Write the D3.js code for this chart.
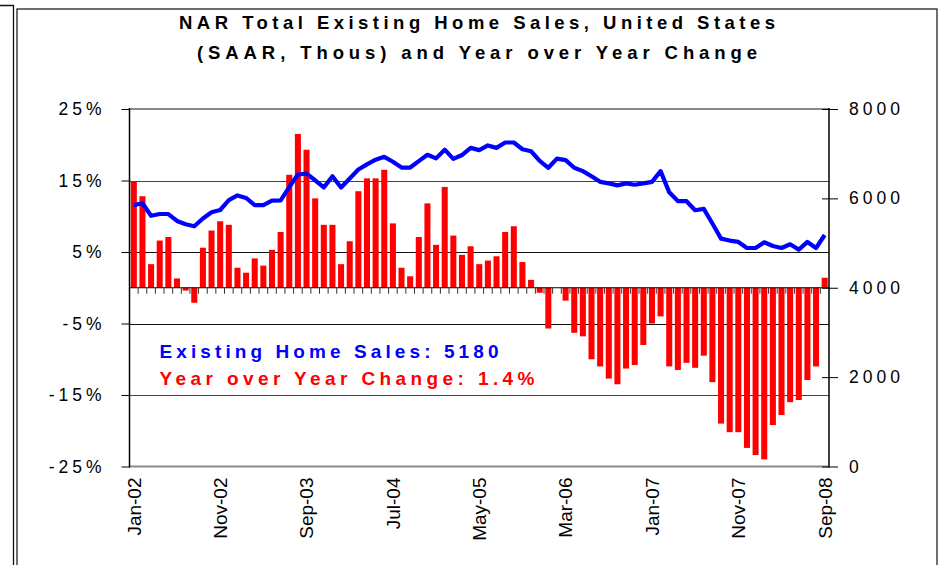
<!DOCTYPE html>
<html>
<head>
<meta charset="utf-8">
<script src="https://cdn.jsdelivr.net/npm/d3@7"></script>
<style>
  html, body { margin: 0; padding: 0; background: #fff; }
  svg { display: block; font-family: Arial, "Liberation Sans", sans-serif; }
</style>
</head>
<body>
<svg id="chart" width="943" height="565"></svg>
<script>
// ---------- DATA ----------
const startMonth = new Date(2002, 0, 1);
const endMonth = new Date(2008, 9, 1); // exclusive -> through Sep-08
const months = d3.timeMonths(startMonth, endMonth).map(d3.timeFormat("%b-%y"));

const yoyChange = [
  14.8, 12.8, 3.3, 6.6, 7.1, 1.3, -0.4, -2.1, 5.6, 8.0, 9.3, 8.8,
  2.8, 2.1, 4.1, 3.1, 5.3, 7.8, 15.8, 21.5, 19.3, 12.5, 8.8, 8.8,
  3.3, 6.5, 13.5, 15.3, 15.3, 16.5, 9.0, 2.8, 1.6, 7.1, 11.8, 6.0,
  14.1, 7.3, 4.6, 5.8, 3.3, 3.8, 4.4, 7.8, 8.6, 3.6, 1.1, -0.7,
  -5.7, 0.0, -1.8, -6.3, -6.8, -10.0, -11.0, -12.7, -13.5, -11.3, -10.8, -8.0,
  -5.0, -4.0, -11.0, -11.5, -10.5, -11.2, -9.5, -13.2, -19.0, -20.2, -20.2, -22.4,
  -23.4, -24.0, -19.2, -17.8, -16.0, -15.7, -12.9, -11.0, 1.4
];

const homeSales = [
  5850, 5890, 5610, 5650, 5650, 5495, 5420, 5375, 5550, 5690, 5740, 5960,
  6065, 6010, 5850, 5850, 5950, 5955, 6250, 6535, 6555, 6405, 6245, 6495,
  6245, 6445, 6645, 6760, 6865, 6930, 6820, 6690, 6690, 6835, 6975, 6895,
  7090, 6885, 6970, 7130, 7080, 7185, 7130, 7250, 7250, 7100, 7055, 6840,
  6685, 6890, 6855, 6685, 6610, 6495, 6370, 6335, 6290, 6335, 6305, 6335,
  6370, 6610, 6135, 5940, 5937, 5735, 5765, 5437, 5100, 5056, 5025, 4890,
  4890, 5018, 4935, 4890, 4973, 4854, 5025, 4890, 5180
];

const xTickLabels = ["Jan-02","Nov-02","Sep-03","Jul-04","May-05","Mar-06","Jan-07","Nov-07","Sep-08"];
const leftTicks = [-25, -15, -5, 5, 15, 25];
const rightTicks = [0, 2000, 4000, 6000, 8000];
const titleLines = ["NAR Total Existing Home Sales, United States", "(SAAR, Thous) and Year over Year Change"];
const legendLines = ["Existing Home Sales: 5180", "Year over Year Change: 1.4%"];

// ---------- LAYOUT ----------
const svg = d3.select("#chart");
const L = 129.5, R = 829, T = 109, B = 466.5;

const x = d3.scaleBand().domain(months).range([L, R]).paddingInner(0.3).paddingOuter(0.15);
const yL = d3.scaleLinear().domain([-25, 25]).range([B, T]);
const yR = d3.scaleLinear().domain([0, 8000]).range([B, T]);

// outer frames
svg.append("path").attr("d", "M0,5.5 H13.5 V566").attr("fill", "none").attr("stroke", "#111").attr("stroke-width", 1.3);
svg.append("rect").attr("x", 17).attr("y", 9).attr("width", 920).attr("height", 570)
  .attr("fill", "#fff").attr("stroke", "#222").attr("stroke-width", 1.3);

// title
titleLines.forEach((t, i) => {
  svg.append("text")
    .attr("x", 477).attr("y", 29 + i * 30)
    .attr("text-anchor", "middle")
    .attr("font-size", 18.5).attr("font-weight", "bold")
    .attr("textLength", i === 0 ? 596 : 560).attr("lengthAdjust", "spacing")
    .attr("fill", "#000")
    .text(t);
});

// plot border top/bottom (gray)
svg.append("line").attr("x1", L).attr("x2", R).attr("y1", T).attr("y2", T).attr("stroke", "#8a8a8a").attr("stroke-width", 2);
svg.append("line").attr("x1", L).attr("x2", R).attr("y1", B).attr("y2", B).attr("stroke", "#8a8a8a").attr("stroke-width", 2);

// gridlines
svg.append("g").selectAll("line").data(leftTicks.filter(d => d > -25 && d < 25)).join("line")
  .attr("x1", L).attr("x2", R)
  .attr("y1", d => Math.round(yL(d)) + 0.5).attr("y2", d => Math.round(yL(d)) + 0.5)
  .attr("stroke", d => Math.abs(d) === 5 ? "#111" : "#444").attr("stroke-width", 1);

// bars
svg.append("g").selectAll("rect").data(months).join("rect")
  .attr("x", d => x(d))
  .attr("width", x.bandwidth())
  .attr("y", (d, i) => Math.min(yL(yoyChange[i]), yL(0)))
  .attr("height", (d, i) => Math.abs(yL(yoyChange[i]) - yL(0)))
  .attr("fill", "#ff0000");

// category axis at zero with boundary ticks
const zeroY = yL(0);
svg.append("line").attr("x1", L).attr("x2", R).attr("y1", zeroY).attr("y2", zeroY).attr("stroke", "#000").attr("stroke-width", 1.2);
svg.append("g").selectAll("line").data(months.slice(1)).join("line")
  .attr("x1", d => x(d) - x.step() * x.paddingInner() / 2)
  .attr("x2", d => x(d) - x.step() * x.paddingInner() / 2)
  .attr("y1", zeroY).attr("y2", zeroY + 6)
  .attr("stroke", "#333").attr("stroke-width", 1);

// line
const line = d3.line().x((d, i) => x(months[i]) + x.bandwidth() / 2).y(d => yR(d)).curve(d3.curveLinear);
svg.append("path").datum(homeSales).attr("d", line)
  .attr("fill", "none").attr("stroke", "#0000ff").attr("stroke-width", 4.2).attr("stroke-linejoin", "round");

// left axis
const gL = svg.append("g").attr("transform", `translate(${L},0)`)
  .call(d3.axisLeft(yL).tickValues(leftTicks).tickFormat(d => d + "%").tickSize(8).tickPadding(16));
gL.select(".domain").remove();
gL.selectAll(".tick line").attr("stroke", "#000");
gL.selectAll(".tick text").attr("font-size", 17.5).attr("font-family", "Arial, 'Liberation Sans', sans-serif")
  .attr("letter-spacing", "4px").attr("fill", "#000");
svg.append("line").attr("x1", L).attr("x2", L).attr("y1", T - 1).attr("y2", B + 1).attr("stroke", "#000").attr("stroke-width", 1.5);

// right axis
const gR = svg.append("g").attr("transform", `translate(${R},0)`)
  .call(d3.axisRight(yR).tickValues(rightTicks).tickFormat(d3.format("d")).tickSize(9).tickPadding(11));
gR.select(".domain").remove();
gR.selectAll(".tick line").attr("x1", -7).attr("stroke", "#000");
gR.selectAll(".tick text").attr("font-size", 17.5).attr("font-family", "Arial, 'Liberation Sans', sans-serif")
  .attr("letter-spacing", "4px").attr("fill", "#000");
svg.append("line").attr("x1", R).attr("x2", R).attr("y1", T - 1).attr("y2", B + 1).attr("stroke", "#000").attr("stroke-width", 1.5);

// bottom labels
const gB = svg.append("g").attr("transform", `translate(0,${B})`)
  .call(d3.axisBottom(x).tickValues(xTickLabels).tickSize(0).tickPadding(0));
gB.select(".domain").remove();
gB.selectAll(".tick text")
  .attr("font-size", 19).attr("font-family", "Arial, 'Liberation Sans', sans-serif").attr("fill", "#000")
  .attr("text-anchor", "end")
  .attr("transform", "rotate(-90)")
  .attr("x", -11).attr("y", 0).attr("dy", "0.36em");

// legend text
const legendColors = ["#0000ff", "#ff0000"];
const legendWidths = [339, 375];
legendLines.forEach((t, i) => {
  svg.append("text")
    .attr("x", 159.5).attr("y", 357.5 + i * 27)
    .attr("font-size", 19).attr("font-weight", "bold")
    .attr("textLength", legendWidths[i]).attr("lengthAdjust", "spacing")
    .attr("fill", legendColors[i])
    .text(t);
});
</script>
</body>
</html>
